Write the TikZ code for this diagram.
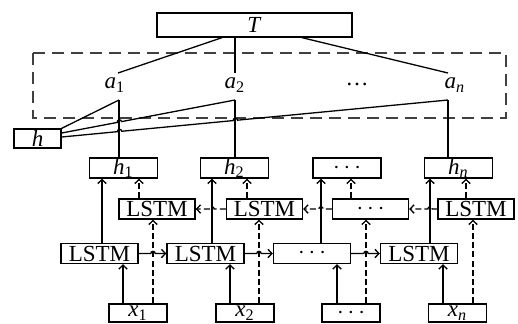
\documentclass[tikz,border=0pt]{standalone}
\usepackage{fontspec}
\setmainfont{Liberation Serif}
\usetikzlibrary{arrows.meta,calc}
\tikzset{
  box/.style={draw, line width=0.65pt, inner sep=0pt, font=\fontsize{11.5}{13}\selectfont},
  lbl/.style={inner sep=0pt, font=\fontsize{11.5}{13}\selectfont},
  tbox/.style={box, minimum width=97.5pt, minimum height=12pt},
  hout/.style={box, minimum width=23.5pt, minimum height=9.5pt},
  hbox/.style={box, minimum width=34pt, minimum height=10pt},
  bbox/.style={box, minimum width=38pt, minimum height=10pt},
  fbox/.style={box, minimum width=38.5pt, minimum height=10pt},
  xbox/.style={box, minimum width=29pt, minimum height=9pt},
  conn/.style={line width=0.65pt},
  arr/.style={conn, -{Straight Barb[length=2pt,width=4.2pt]}},
  dsh/.style={dash pattern=on 3pt off 1.6pt},
  frame/.style={line width=0.65pt, black!75, dash pattern=on 6pt off 3.5pt},
}
\newcommand{\vsub}[2]{\textit{#1}\textsubscript{#2}}
\begin{document}
\begin{tikzpicture}[x=0.5pt,y=-0.5pt]
\useasboundingbox (0,0) rectangle (518,323);

% attention frame
\draw[frame] (33,53) rectangle (506,118);

% top output node
\node[tbox] (T) at (254.5,25) {\textit{T}};

% attention weights
\node[lbl] (a1) at (115,85) {\vsub{a}{1}};
\node[lbl] (a2) at (235,85) {\vsub{a}{2}};
\node[lbl] (ad) at (357,84) {\ldots};
\node[lbl] (an) at (455,85) {\vsub{a}{\textit{n}}};
\coordinate (a1top) at (118,73);
\coordinate (a2top) at (235,73);
\coordinate (antop) at (448,73);
\coordinate (a1bot) at (119,100);
\coordinate (a2bot) at (235,100);
\coordinate (anbot) at (448,100);

% sentence vector
\node[hout] (h) at (37.5,138.5) {\textit{h}};

% hidden states
\node[hbox] (h1) at (123.5,168) {\vsub{h}{1}};
\node[hbox] (h2) at (234.5,168) {\vsub{h}{2}};
\node[hbox] (hd) at (347,168) {$\cdots$};
\node[hbox] (hn) at (458.5,168) {\vsub{h}{\textit{n}}};

% backward LSTM layer
\node[bbox] (b1) at (157,209) {LSTM};
\node[bbox] (b2) at (264.5,209) {LSTM};
\node[bbox] (bd) at (370.5,209) {$\cdots$};
\node[bbox] (bn) at (476,209) {LSTM};

% forward LSTM layer
\node[fbox] (f1) at (99.5,253.5) {LSTM};
\node[fbox] (f2) at (205.5,253.5) {LSTM};
\node[fbox] (fd) at (312,253.5) {$\cdots$};
\node[fbox] (fn) at (419,253.5) {LSTM};

% inputs
\node[xbox] (x1) at (138,313) {\vsub{x}{1}};
\node[xbox] (x2) at (245,313) {\vsub{x}{2}};
\node[xbox] (xd) at (351,313) {$\cdots$};
\node[xbox] (xn) at (457.5,313) {\vsub{x}{\textit{n}}};

% column positions of the vertical connectors
\foreach \i/\sf/\db/\sx/\dx in {1/102/139/123/153, 2/212/247/230/259, 3/321/351/337/366, 4/430/466/443/473}{
  \coordinate (sF\i) at (\sf,0);
  \coordinate (dB\i) at (\db,0);
  \coordinate (sX\i) at (\sx,0);
  \coordinate (dX\i) at (\dx,0);
}

% T to the weights
\draw[conn] ([xshift=-16.25pt]T.south) -- (a1top);
\draw[conn] (T.south -| a2top) -- (a2top);
\draw[conn] ([xshift=23.75pt]T.south) -- (antop);

% weights down to hidden states
\draw[conn] (a1bot) -- (a1bot |- h1.north);
\draw[conn] (a2bot) -- (a2bot |- h2.north);
\draw[conn] (anbot) -- (anbot |- hn.north);

% weighted sum into h
\coordinate (p2) at ($(h.east)+(0,-5.5)$);
\coordinate (p3) at ($(h.east)+(0,-1.5)$);
\draw[conn] (h.north east) -- (a1bot);
\draw[conn] (p2) -- ($(p2)!0.3209!(a2bot)$)
  arc[start angle=190.74, end angle=10.74, radius=1.1pt] -- (a2bot);
\draw[conn] (p3) -- ($(p3)!0.14421!(anbot)$)
  arc[start angle=185.46, end angle=5.46, radius=1.1pt]
  -- ($(p3)!0.44395!(anbot)$)
  arc[start angle=185.46, end angle=5.46, radius=1.1pt] -- (anbot);

% vertical connectors
\foreach \x/\f/\b/\hh/\i in {x1/f1/b1/h1/1, x2/f2/b2/h2/2, xd/fd/bd/hd/3, xn/fn/bn/hn/4}{
  \draw[arr] (sF\i |- \f.north) -- (sF\i |- \hh.south);
  \draw[arr,dsh] (dB\i |- \b.north) -- (dB\i |- \hh.south);
  \draw[arr] (sX\i |- \x.north) -- (sX\i |- \f.south);
  \draw[arr,dsh] (dX\i |- \x.north) -- (dX\i |- \b.south);
}

% forward recurrence
\foreach \a/\b/\i in {f1/f2/1, f2/fd/2, fd/fn/3}{
  \draw[arr] (\a.east) -- ($(dX\i |- \a.east)+(-2.2,0)$)
    arc[start angle=180, end angle=0, radius=1.1pt] -- (\b.west);
}

% backward recurrence
\foreach \a/\b/\i in {b2/b1/2, bd/b2/3, bn/bd/4}{
  \draw[arr,dsh] (\a.west) -- ($(sF\i |- \a.west)+(2.2,0)$)
    arc[start angle=0, end angle=180, radius=1.1pt] -- (\b.east);
}
\end{tikzpicture}
\end{document}
